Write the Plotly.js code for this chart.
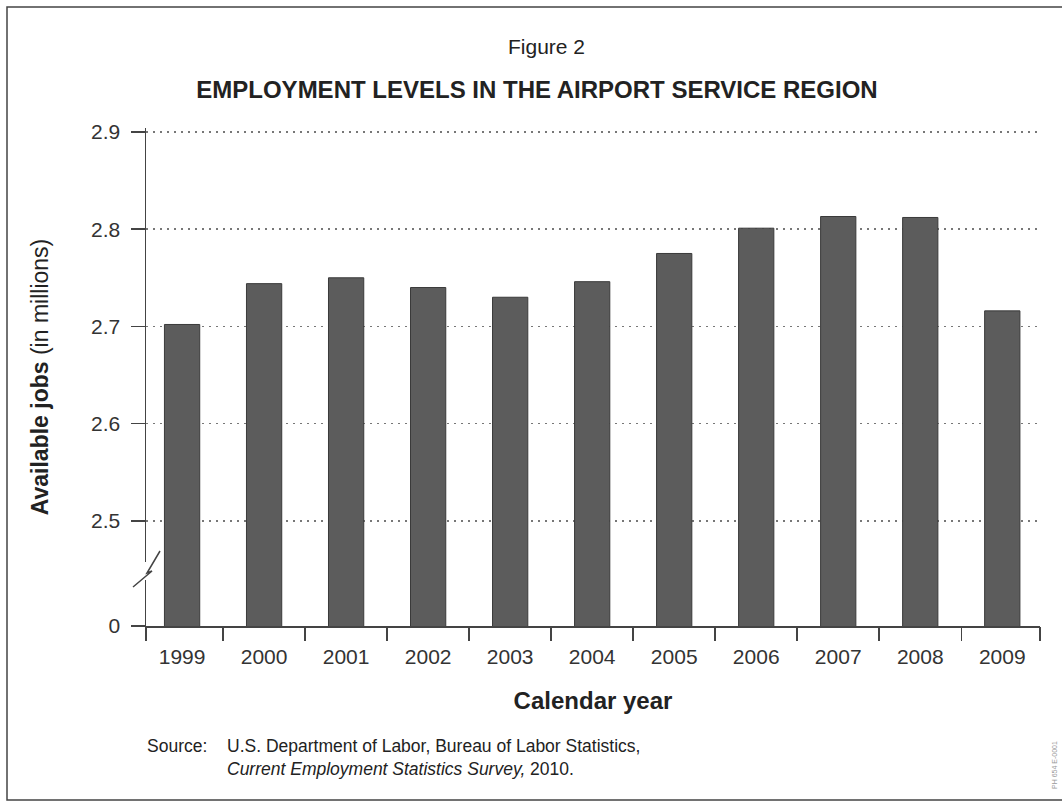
<!DOCTYPE html>
<html>
<head>
<meta charset="utf-8">
<script src="https://cdn.plot.ly/plotly-3.0.1.min.js"></script>
<style>
html,body{margin:0;padding:0;background:#fff;}
#chart{width:1062px;height:803px;}
</style>
</head>
<body>
<div id="chart"></div>
<script>
// ---- data ----
const years = [1999, 2000, 2001, 2002, 2003, 2004, 2005, 2006, 2007, 2008, 2009];
const yearLabels = ["1999","2000","2001","2002","2003","2004","2005","2006","2007","2008","2009"];
const jobsMillions = [2.702, 2.744, 2.750, 2.740, 2.730, 2.746, 2.775, 2.801, 2.813, 2.812, 2.716];
// broken axis: the bottom tick stands for 0
const yTickVals = [2.392, 2.5, 2.6, 2.7, 2.8, 2.9];
const yTickText = ["0", "2.5", "2.6", "2.7", "2.8", "2.9"];

// ---- layout geometry ----
const W = 1062, H = 803;
const L = 146, R = 1040, T = 128, B = 626;
const pw = R - L, ph = B - T;
const px = x => (x - L) / pw;
const py = y => (B - y) / ph;

const xMin = years[0] - 0.44, xMax = years[years.length - 1] + 0.46;
const boundaries = [xMin];
for (let i = 0; i < years.length - 1; i++) boundaries.push(years[i] + 0.5);
boundaries.push(xMax);

const FONT = "Liberation Sans, Arial, Helvetica, sans-serif";
const INK = "#333";

const traces = [
  {
    type: "bar",
    x: years,
    y: jobsMillions,
    width: 0.43,
    marker: {color: "#5c5c5c", line: {color: "#3a3a3a", width: 1}},
    hoverinfo: "x+y",
    showlegend: false
  },
  {
    type: "scatter",
    x: [],
    y: [],
    xaxis: "x2",
    yaxis: "y",
    showlegend: false,
    hoverinfo: "skip"
  }
];

const layout = {
  width: W, height: H,
  margin: {l: L, r: W - R, t: T, b: H - B, pad: 0},
  paper_bgcolor: "#fff",
  plot_bgcolor: "#fff",
  font: {family: FONT, color: INK, size: 19},
  showlegend: false,
  title: {
    text: "<b>EMPLOYMENT LEVELS IN THE AIRPORT SERVICE REGION</b>",
    x: 537 / W, xanchor: "center", xref: "container",
    y: 1 - 90 / H, yanchor: "middle", yref: "container",
    font: {family: FONT, size: 24, color: "#222"}
  },
  xaxis: {
    type: "linear",
    range: [xMin, xMax],
    tickvals: years,
    ticktext: yearLabels,
    ticks: "outside",
    ticklen: 11,
    tickcolor: "rgba(0,0,0,0)",
    showgrid: false,
    zeroline: false,
    showline: true,
    linecolor: "#444",
    linewidth: 1.5,
    tickfont: {family: FONT, size: 21, color: INK},
    fixedrange: true,
    title: {
      text: "<b>Calendar year</b>",
      font: {family: FONT, size: 24, color: "#222"},
      standoff: 25
    }
  },
  xaxis2: {
    overlaying: "x",
    matches: "x",
    anchor: "y",
    side: "bottom",
    range: [xMin, xMax],
    tickvals: boundaries,
    ticks: "outside",
    ticklen: 14,
    tickwidth: 1.5,
    tickcolor: "#444",
    showticklabels: false,
    showgrid: false,
    zeroline: false,
    showline: false
  },
  yaxis: {
    range: [2.392, 2.904],
    tickvals: yTickVals,
    ticktext: yTickText,
    ticks: "outside",
    ticklen: 14,
    tickwidth: 1.5,
    tickcolor: "#444",
    ticklabelstandoff: 6,
    showline: true,
    linecolor: "#444",
    linewidth: 1.5,
    showgrid: true,
    gridcolor: "#777",
    gridwidth: 1.6,
    griddash: "2px,5px",
    zeroline: false,
    tickfont: {family: FONT, size: 21, color: INK},
    fixedrange: true,
    title: {
      text: "<b>Available jobs</b> (in millions)",
      font: {family: FONT, size: 23, color: "#222"},
      standoff: 36
    }
  },
  shapes: [
    // outer frame
    {type: "rect", xref: "paper", yref: "paper",
     x0: px(7), x1: px(1080), y0: py(800), y1: py(7),
     line: {color: "#444", width: 1.5}, fillcolor: "rgba(0,0,0,0)", layer: "below"},
    // axis break: white gap + zigzag
    {type: "rect", xref: "paper", yref: "paper",
     x0: px(142), x1: px(150), y0: py(580), y1: py(562),
     line: {width: 0}, fillcolor: "#fff", layer: "above"},
    {type: "path", xref: "paper", yref: "paper",
     path: "M " + px(160) + " " + py(551) + " L " + px(147) + " " + py(573) +
           " L " + px(152) + " " + py(571) + " L " + px(133) + " " + py(587),
     line: {color: "#444", width: 1.5}, layer: "above"}
  ],
  annotations: [
    {text: "Figure 2", xref: "paper", yref: "paper",
     x: px(546), y: py(47), xanchor: "center", yanchor: "middle",
     showarrow: false, font: {family: FONT, size: 21, color: "#222"}},
    {text: "Source:", xref: "paper", yref: "paper",
     x: px(145), y: py(746), xanchor: "left", yanchor: "middle",
     showarrow: false, font: {family: FONT, size: 17.5, color: "#222"}},
    {text: "U.S. Department of Labor, Bureau of Labor Statistics,", xref: "paper", yref: "paper",
     x: px(225), y: py(746), xanchor: "left", yanchor: "middle",
     showarrow: false, font: {family: FONT, size: 17.5, color: "#222"}},
    {text: "<i>Current Employment Statistics Survey,</i> 2010.", xref: "paper", yref: "paper",
     x: px(225), y: py(769), xanchor: "left", yanchor: "middle",
     showarrow: false, font: {family: FONT, size: 17.5, color: "#222"}},
    {text: "PH 654 E-0001", xref: "paper", yref: "paper",
     x: px(1054), y: py(765), xanchor: "center", yanchor: "middle", textangle: -90,
     showarrow: false, font: {family: FONT, size: 7, color: "#999"}}
  ]
};

Plotly.newPlot("chart", traces, layout, {displayModeBar: false, staticPlot: true});
</script>
</body>
</html>
